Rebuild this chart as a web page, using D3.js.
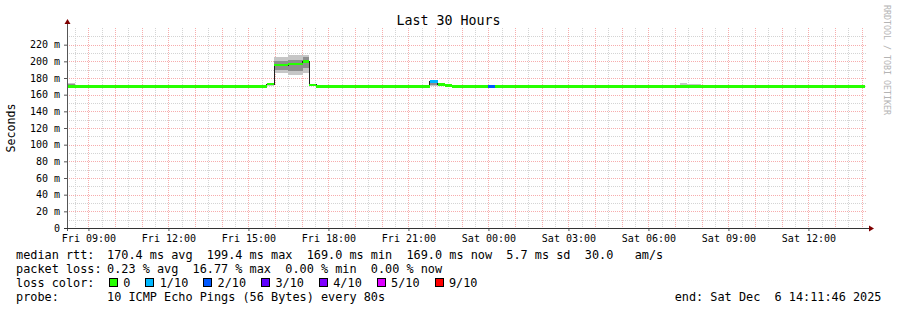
<!DOCTYPE html>
<html>
<head>
<meta charset="utf-8">
<script src="https://cdn.jsdelivr.net/npm/d3@7"></script>
<style>
body{margin:0;background:#fff}
svg{display:block}
text{white-space:pre}
</style>
</head>
<body>
<div id="chart"></div>
<script>
'use strict'
// chart data
const rangeStart="2025-12-05T08:11:46"
const rangeEnd="2025-12-06T14:11:46"
const dataEnd="2025-12-06T14:07:00"
const segTimes=["2025-12-05T08:11:46","2025-12-05T08:30","2025-12-05T09:03","2025-12-05T15:27","2025-12-05T15:41","2025-12-05T15:58","2025-12-05T16:30","2025-12-05T17:02","2025-12-05T17:17","2025-12-05T17:33","2025-12-05T21:48","2025-12-05T22:06","2025-12-05T22:22","2025-12-05T22:37","2025-12-06T00:00","2025-12-06T00:15","2025-12-06T06:24","2025-12-06T06:39","2025-12-06T07:11","2025-12-06T07:27","2025-12-06T07:58","2025-12-06T08:14","2025-12-06T08:47"]
const medianMs=[170,170,170,170,172.5,195.5,196.5,200,171.5,170,175.6,172.2,171.2,170,170,170,170,170,170,170,170,170,170]
const lossCount=[0,0,0,0,0,0,0,0,0,0,1,0,0,0,2,0,0,0,0,0,0,0,0]
const smokeLo=[169,169,null,169,171,186,184,186,null,null,171,null,null,null,null,null,169,null,169,169,null,169,null]
const smokeHi=[174.4,171.6,null,172,173.5,205.6,207.6,208,null,null,176.5,null,null,null,null,null,171.6,null,174,172.8,null,171.6,null]
const coreLo=[169.5,null,null,null,null,190,188,192,null,null,172,null,null,null,null,null,null,null,null,null,null,null,null]
const coreHi=[172.5,null,null,null,null,201,202,205,null,null,175,null,null,null,null,null,null,null,null,null,null,null,null]
const yTicks=[0,20,40,60,80,100,120,140,160,180,200,220]
const lossLabels=["0","1/10","2/10","3/10","4/10","5/10","9/10"]
const lossColors=["#26ff00","#00b8ff","#0059ff","#5e00ff","#7e00ff","#dd00ff","#ff0000"]
const lossIndex={0:0,1:1,2:2,3:3,4:4,5:5,9:6}
const rttStats="170.4 ms avg  199.4 ms max  169.0 ms min  169.0 ms now  5.7 ms sd  30.0   am/s"
const lossStats="0.23 % avg  16.77 % max  0.00 % min  0.00 % now"
const probeText="10 ICMP Echo Pings (56 Bytes) every 80s"
const endText="end: Sat Dec  6 14:11:46 2025"

const W=897,H=310
const pL=67,pR=867,pT=28,pB=228
const mono="DejaVu Sans Mono"
const parse=d3.utcParse("%Y-%m-%dT%H:%M:%S")
const parseShort=d3.utcParse("%Y-%m-%dT%H:%M")
function pt(s){return parse(s)||parseShort(s)}

let svg=d3.select("#chart").append("svg").attr("width",W).attr("height",H).style("background","#fff")
let x=d3.scaleUtc().domain([pt(rangeStart),pt(rangeEnd)]).range([pL,pR])
let y=d3.scaleLinear().domain([0,240]).range([pB,pT])

// grid
let grid=svg.append("g").attr("shape-rendering","crispEdges")
let minorY=d3.range(10,240,20)
grid.selectAll(".hmin").data(minorY).enter().append("line")
  .attr("x1",pL).attr("x2",pR).attr("y1",d=>Math.round(y(d))+0.5).attr("y2",d=>Math.round(y(d))+0.5)
  .attr("stroke","#d4d4d4").attr("stroke-dasharray","1,1")
let halfHours=d3.utcMinute.every(30).range(...x.domain()).filter(d=>d.getUTCMinutes()==30)
grid.selectAll(".vmin").data(halfHours).enter().append("line")
  .attr("y1",pT).attr("y2",pB).attr("x1",d=>Math.round(x(d))+0.5).attr("x2",d=>Math.round(x(d))+0.5)
  .attr("stroke","#d4d4d4").attr("stroke-dasharray","1,1")
grid.selectAll(".hmaj").data(yTicks.slice(1)).enter().append("line")
  .attr("x1",pL).attr("x2",pR).attr("y1",d=>Math.round(y(d))+0.5).attr("y2",d=>Math.round(y(d))+0.5)
  .attr("stroke","#f7adad").attr("stroke-dasharray","1,1")
let hours=d3.utcHour.every(1).range(...x.domain())
grid.selectAll(".vmaj").data(hours).enter().append("line")
  .attr("y1",pT).attr("y2",pB).attr("x1",d=>Math.round(x(d))+0.5).attr("x2",d=>Math.round(x(d))+0.5)
  .attr("stroke","#f7adad").attr("stroke-dasharray","1,1")

// segments
let segs=segTimes.map((t,i)=>({t0:pt(t),t1:pt(i+1<segTimes.length?segTimes[i+1]:dataEnd),med:medianMs[i],loss:lossCount[i],lo:smokeLo[i],hi:smokeHi[i],clo:coreLo[i],chi:coreHi[i]}))

let plot=svg.append("g").attr("shape-rendering","crispEdges")
plot.selectAll(".smoke").data(segs.filter(d=>d.hi!=null)).enter().append("rect")
  .attr("x",d=>x(d.t0)).attr("width",d=>x(d.t1)-x(d.t0))
  .attr("y",d=>y(d.hi)).attr("height",d=>y(d.lo)-y(d.hi)).attr("fill","#c6c6c6")
plot.selectAll(".core").data(segs.filter(d=>d.chi!=null)).enter().append("rect")
  .attr("x",d=>x(d.t0)).attr("width",d=>x(d.t1)-x(d.t0))
  .attr("y",d=>y(d.chi)).attr("height",d=>y(d.clo)-y(d.chi)).attr("fill","#8e8e8e")

let linePts=segs.map(d=>[d.t0,d.med]).concat([[pt(dataEnd),medianMs[medianMs.length-1]]])
plot.append("path").datum(linePts)
  .attr("d",d3.line().x(d=>x(d[0])).y(d=>y(d[1])).curve(d3.curveStepAfter))
  .attr("fill","none").attr("stroke","#202020").attr("stroke-width",1.2)
plot.selectAll(".band").data(segs).enter().append("rect")
  .attr("x",d=>x(d.t0)).attr("width",d=>x(d.t1)-x(d.t0))
  .attr("y",d=>y(d.med)-1.3).attr("height",2.5).attr("fill",d=>lossColors[lossIndex[d.loss]])

// axes
let yAxis=d3.axisLeft(y).tickValues(yTicks).tickSize(3).tickPadding(4)
  .tickFormat(d=>d?d+" m":"0")
let gy=svg.append("g").attr("transform","translate("+pL+",0)").call(yAxis)
gy.select(".domain").remove()
gy.selectAll("text").attr("font-family",mono).attr("font-size","10px").attr("fill","#000")
gy.selectAll("line").attr("stroke","#555")

let xAxis=d3.axisBottom(x).ticks(d3.utcHour.every(3)).tickSize(3).tickPadding(4)
  .tickFormat(d3.utcFormat("%a %H:%M"))
let gx=svg.append("g").attr("transform","translate(0,"+pB+")").call(xAxis)
gx.select(".domain").remove()
gx.selectAll("text").attr("font-family",mono).attr("font-size","10px").attr("fill","#000")
gx.selectAll("line").attr("stroke","#555")

svg.append("line").attr("x1",pL+0.5).attr("x2",pL+0.5).attr("y1",pB+3).attr("y2",pT-5)
  .attr("stroke","#555").attr("shape-rendering","crispEdges")
svg.append("line").attr("x1",pL-3).attr("x2",pR+3).attr("y1",pB+0.5).attr("y2",pB+0.5)
  .attr("stroke","#333").attr("shape-rendering","crispEdges")
svg.append("path").attr("d","M"+(pL-2.5)+","+(pT-4)+"L"+(pL+3.5)+","+(pT-4)+"L"+(pL+0.5)+","+(pT-9)+"Z").attr("fill","#7f0000")
svg.append("path").attr("d","M"+(pR+2)+","+(pB-2.5)+"L"+(pR+2)+","+(pB+3.5)+"L"+(pR+7)+","+(pB+0.5)+"Z").attr("fill","#7f0000")

// titles
svg.append("text").attr("x",W/2).attr("y",24.5).attr("text-anchor","middle")
  .attr("font-family",mono).attr("font-size","13.3px").text("Last 30 Hours")
svg.append("text").attr("transform","translate(15,128)rotate(-90)").attr("text-anchor","middle")
  .attr("font-family",mono).attr("font-size","11.6px").text("Seconds")
svg.append("text").attr("transform","translate(884,5)rotate(90)")
  .attr("font-family",mono).attr("font-size","8.3px").attr("fill","#b4b4b4").text("RRDTOOL / TOBI OETIKER")

// legend
let leg=svg.append("g").attr("font-family",mono).attr("font-size","11.85px").attr("fill","#000")
let rows=[258.5,272.8,287,301.3]
leg.append("text").attr("x",16).attr("y",rows[0]).text("median rtt:")
leg.append("text").attr("x",107).attr("y",rows[0]).text(rttStats)
leg.append("text").attr("x",16).attr("y",rows[1]).text("packet loss:")
leg.append("text").attr("x",107).attr("y",rows[1]).text(lossStats)
leg.append("text").attr("x",16).attr("y",rows[2]).text("loss color:")
let bx=109
lossLabels.forEach((l,i)=>{
  leg.append("rect").attr("x",bx+0.5).attr("y",rows[2]-8.5).attr("width",8).attr("height",8)
    .attr("fill",lossColors[i]).attr("stroke","#000").attr("shape-rendering","crispEdges")
  let t=leg.append("text").attr("x",bx+14.3).attr("y",rows[2]).text(l)
  bx=bx+14.3+t.node().getComputedTextLength()+15
})
leg.append("text").attr("x",16).attr("y",rows[3]).text("probe:")
leg.append("text").attr("x",107).attr("y",rows[3]).text(probeText)
leg.append("text").attr("x",881.5).attr("y",rows[3]).attr("text-anchor","end").text(endText)
</script>
</body>
</html>
